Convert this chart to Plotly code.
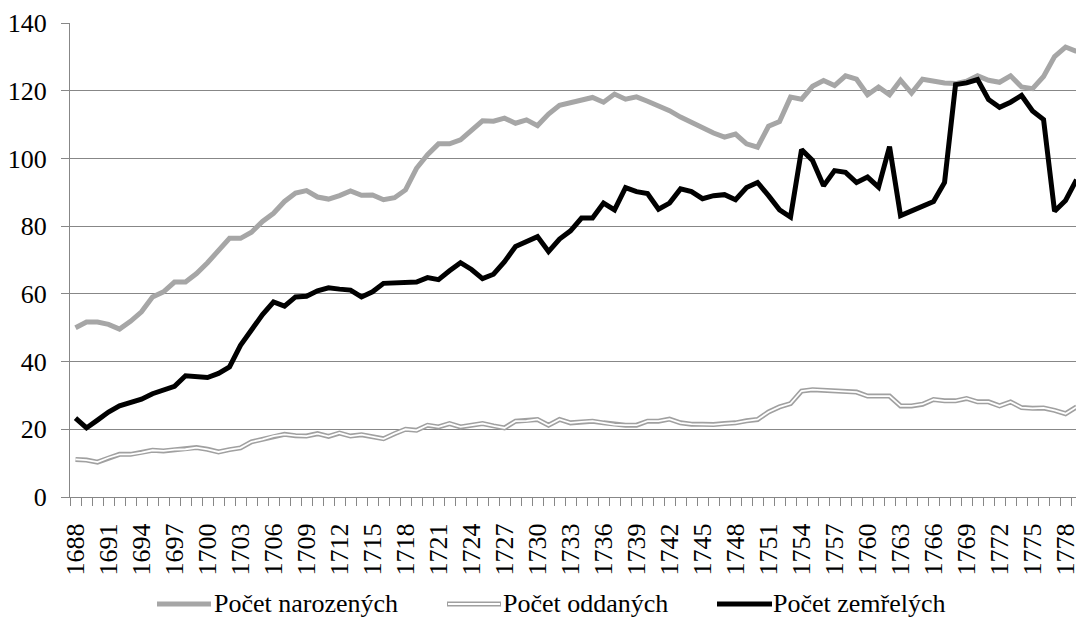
import plotly.graph_objects as go

years = list(range(1688, 1780))

narozenych = [50.0, 51.7, 51.7, 51.0, 49.6, 51.9, 54.7, 59.1, 60.6, 63.5,
              63.5, 66.0, 69.2, 73.0, 76.4, 76.4, 78.2, 81.4, 83.8, 87.3,
              89.8, 90.5, 88.6, 88.0, 89.0, 90.4, 89.1, 89.2, 87.8, 88.4,
              90.7, 97.1, 101.1, 104.3, 104.3, 105.5, 108.2, 111.1, 111.0, 111.9,
              110.4, 111.4, 109.7, 113.1, 115.7, 116.4, 117.0, 118.0, 116.6, 119.0,
              117.5, 118.2, 116.9, 115.6, 114.1, 112.2, 110.6, 109.2, 107.5, 106.3,
              107.2, 104.3, 103.3, 109.5, 110.9, 118.1, 117.5, 121.3, 123.0, 121.5,
              124.4, 123.4, 118.8, 121.1, 118.8, 123.1, 119.3, 123.4, 122.8, 122.3,
              122.1, 122.8, 124.4, 123.1, 122.5, 124.4, 121.1, 120.6, 124.2, 130.1,
              132.9, 131.6]

oddanych = [11.1, 10.9, 10.3, 11.6, 12.6, 12.6, 13.1, 13.8, 13.6, 14.0,
            14.1, 14.6, 14.1, 13.3, 14.0, 14.5, 16.3, 17.0, 18.0, 18.5,
            18.1, 18.0, 18.7, 17.9, 18.9, 18.0, 18.4, 17.7, 17.2, 18.7,
            20.0, 19.7, 21.2, 20.7, 21.7, 20.7, 21.2, 21.7, 21.0, 20.4,
            22.4, 22.5, 22.9, 21.2, 22.9, 21.9, 22.2, 22.4, 21.9, 21.4,
            21.2, 21.2, 22.4, 22.4, 23.0, 21.9, 21.5, 21.5, 21.4, 21.7,
            21.9, 22.5, 22.9, 25.1, 26.6, 27.6, 31.3, 31.7, 31.5, 31.2,
            31.0, 31.0, 29.8, 29.8, 29.8, 26.9, 26.9, 27.4, 28.8, 28.4,
            28.4, 29.1, 28.1, 28.1, 26.9, 28.1, 26.4, 26.2, 26.3, 25.6,
            24.6, 26.6]

zemrelych = [23.3, 20.4, 22.7, 25.1, 26.9, 27.8, 28.9, 30.5, 31.5, 32.7,
             35.8, 35.4, 35.3, 36.5, 38.4, 44.8, 49.3, 53.9, 57.6, 56.4,
             59.1, 59.3, 60.9, 61.8, 61.4, 61.1, 59.1, 60.6, 63.1, 63.3,
             63.5, 63.5, 64.8, 64.2, 66.8, 69.2, 67.2, 64.5, 65.8, 69.5,
             74.0, 75.5, 76.9, 72.5, 76.2, 78.6, 82.4, 82.4, 86.8, 84.8,
             91.4, 90.2, 89.6, 85.0, 86.8, 91.0, 90.2, 88.1, 89.0, 89.3,
             87.8, 91.4, 92.9, 89.0, 84.8, 82.7, 102.6, 99.4, 91.9, 96.4,
             95.9, 92.9, 94.5, 91.5, 103.5, 83.1, 84.4, 85.8, 87.3, 92.9,
             121.8, 122.3, 123.3, 117.4, 115.1, 116.6, 118.6, 114.0, 111.5, 84.4,
             87.6, 93.7]

tick_years = list(range(1688, 1779, 3))
tick_labels = [str(y) for y in tick_years]

series_names = ["Počet narozených", "Počet oddaných", "Počet zemřelých"]

GRID = "#878787"
GREY = "#a6a6a6"
DGREY = "#a0a0a0"
FONT = "Liberation Serif"
FS = 26

fig = go.Figure()
fig.add_trace(go.Scatter(x=years, y=narozenych, mode="lines", name=series_names[0],
                         line=dict(color=GREY, width=5), showlegend=False))
fig.add_trace(go.Scatter(x=years, y=oddanych, mode="lines", name=series_names[1],
                         line=dict(color=DGREY, width=5), showlegend=False))
fig.add_trace(go.Scatter(x=years, y=oddanych, mode="lines", name=series_names[1],
                         line=dict(color="white", width=1.8), showlegend=False, hoverinfo="skip"))
fig.add_trace(go.Scatter(x=years, y=zemrelych, mode="lines", name=series_names[2],
                         line=dict(color="black", width=5), showlegend=False))

W, H = 1076, 619
L, R, T, B = 70, 0, 23, 122
PW, PH = W - L - R, H - T - B


def px(x):
    return (x - L) / PW


def py(y):
    return 1 - (y - T) / PH


# manual legend
leg_y = 604
legend_items = [
    (157, 211, 213, series_names[0], "single", GREY),
    (447, 501, 502, series_names[1], "double", DGREY),
    (717, 772, 772, series_names[2], "single", "black"),
]
shapes = []
annotations = []
for x0, x1, tx, name, kind, col in legend_items:
    shapes.append(dict(type="line", xref="paper", yref="paper",
                       x0=px(x0), x1=px(x1), y0=py(leg_y), y1=py(leg_y),
                       line=dict(color=col, width=5)))
    if kind == "double":
        shapes.append(dict(type="line", xref="paper", yref="paper",
                           x0=px(x0 + 1), x1=px(x1 - 1), y0=py(leg_y), y1=py(leg_y),
                           line=dict(color="white", width=1.8)))
    annotations.append(dict(xref="paper", yref="paper", x=px(tx), y=py(leg_y - 1),
                            xanchor="left", yanchor="middle", showarrow=False,
                            borderpad=0,
                            text=name, font=dict(family=FONT, size=FS, color="black")))

fig.update_layout(
    width=W, height=H,
    margin=dict(l=L, r=R, t=T, b=B, pad=0, autoexpand=False),
    paper_bgcolor="white", plot_bgcolor="white",
    font=dict(family=FONT, size=FS, color="black"),
    showlegend=False,
    shapes=shapes,
    annotations=annotations,
    xaxis=dict(
        range=[1687.5, 1778.95], automargin=False,
        tickmode="array", tickvals=tick_years, ticktext=tick_labels,
        tickangle=-90, ticks="", showgrid=False, zeroline=False,
        showline=True, linecolor=GRID, linewidth=1.3,
        minor=dict(tick0=1687.5, dtick=1, ticks="outside", ticklen=8,
                   tickcolor=GRID, tickwidth=1.3, showgrid=False),
        tickfont=dict(family=FONT, size=FS, color="black"),
        ticklabelstandoff=15,
        ticklabeloverflow="allow",
    ),
    yaxis=dict(
        range=[0, 140], tick0=0, dtick=20, automargin=False,
        showgrid=True, gridcolor=GRID, gridwidth=1.3, zeroline=False,
        showline=True, linecolor=GRID, linewidth=1.3,
        ticks="outside", ticklen=8, tickcolor=GRID, tickwidth=1.3,
        tickfont=dict(family=FONT, size=FS, color="black"),
        ticklabelstandoff=9,
    ),
)

fig.write_html("out.html", config={"displayModeBar": False},
               post_script="document.body.style.margin='0px';")
